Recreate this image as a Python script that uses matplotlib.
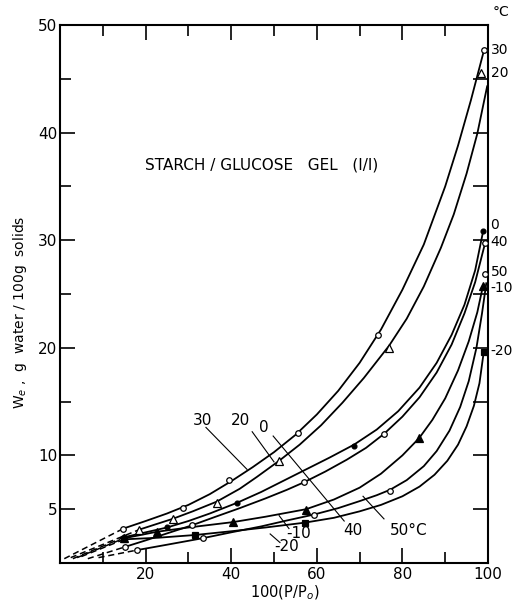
import matplotlib
matplotlib.use("Agg")
import matplotlib.pyplot as plt

# Sorption isotherms, starch/glucose gel (1/1).
temps = ["30", "20", "0", "40", "-10", "50", "-20"]

pts_x = {
    "30": [14.8, 28.7, 39.5, 55.6, 74.3, 99.1],
    "20": [18.5, 26.3, 36.6, 51.2, 76.9, 98.4],
    "0": [15.0, 25.0, 41.4, 68.7, 98.9],
    "40": [15.2, 30.8, 57.0, 75.7, 99.3],
    "-10": [15.0, 22.6, 40.4, 57.5, 83.9, 98.8],
    "50": [18.0, 33.3, 59.3, 77.1, 99.3],
    "-20": [15.0, 31.5, 57.2, 99.0],
}
pts_y = {
    "30": [3.2, 5.1, 7.7, 12.1, 21.2, 47.7],
    "20": [3.1, 4.1, 5.6, 9.5, 20.0, 45.5],
    "0": [2.4, 3.3, 5.6, 10.9, 30.9],
    "40": [1.5, 3.5, 7.5, 12.0, 29.7],
    "-10": [2.3, 2.9, 3.8, 4.9, 11.6, 25.7],
    "50": [1.2, 2.3, 4.5, 6.7, 26.9],
    "-20": [2.2, 2.6, 3.7, 19.6],
}

curve_x = {
    "30": [14.8, 20, 25, 30, 35, 40, 45, 50, 55, 60, 65, 70, 75, 80, 85, 90, 93, 96, 99.1],
    "20": [18.5, 22, 26.3, 31, 36.6, 42, 46, 51.2, 56, 61, 66, 71, 76.9, 81, 85, 89, 92,
           95, 97.5, 99.8],
    "0": [15, 20, 25, 30, 35, 41.4, 47, 53, 58, 63, 68.7, 74, 79, 84, 88, 91.5, 94.5, 97,
          98.9],
    "40": [15.2, 20, 25, 30.8, 36, 42, 48, 53, 57, 62, 67, 71.5, 75.7, 80, 84, 88, 91.5,
           94.5, 97, 99.3],
    "-10": [15, 22.6, 30, 40.4, 48, 57.5, 64, 70, 75, 80, 83.9, 87, 90, 93, 95.5, 97.5,
            98.8],
    "50": [18, 25, 33.3, 40, 47, 53, 59.3, 65, 70, 74, 77.1, 81, 85, 88, 91, 93.5, 95.5,
           97.3, 98.6, 99.6],
    "-20": [15, 23, 31.5, 40, 48, 57.2, 64, 70, 75, 80, 84, 87.5, 90.5, 93, 95, 96.7, 98,
            99],
}
curve_y = {
    "30": [3.2, 3.9, 4.6, 5.4, 6.4, 7.6, 8.9, 10.3, 11.9, 13.8, 16.0, 18.6, 21.7, 25.4,
           29.6, 35.0, 38.8, 43.0, 47.7],
    "20": [3.1, 3.55, 4.1, 4.8, 5.7, 6.9, 8.0, 9.5, 11.0, 12.8, 14.9, 17.2, 20.2, 22.7,
           25.7, 29.3, 32.4, 36.2, 39.9, 44.3],
    "0": [2.4, 2.85, 3.3, 3.9, 4.6, 5.6, 6.6, 7.8, 8.8, 9.8, 11.0, 12.4, 14.1, 16.3, 18.6,
          21.2, 24.0, 27.2, 30.9],
    "40": [1.5, 2.1, 2.75, 3.5, 4.25, 5.1, 6.0, 6.8, 7.5, 8.5, 9.6, 10.7, 12.0, 13.6, 15.4,
           17.7, 20.3, 23.2, 26.1, 29.7],
    "-10": [2.3, 2.9, 3.3, 3.8, 4.3, 5.0, 5.9, 7.0, 8.3, 10.0, 11.6, 13.3, 15.3, 17.9, 20.6,
            23.3, 25.7],
    "50": [1.2, 1.7, 2.3, 2.85, 3.4, 3.95, 4.5, 5.1, 5.75, 6.3, 6.8, 7.7, 9.0, 10.4, 12.3,
           14.5, 16.9, 20.0, 23.2, 26.0],
    "-20": [2.2, 2.35, 2.6, 2.95, 3.3, 3.75, 4.2, 4.8, 5.4, 6.2, 7.1, 8.2, 9.5, 11.0, 12.7,
            14.6, 16.7, 19.6],
}

# dashed extrapolation toward the origin (end points near zero)
dash_end_x = {"30": 1.0, "20": 2.5, "0": 3.0, "40": 6.5, "-10": 4.0, "50": 9.0, "-20": 5.0}
dash_end_y = {"30": 0.4, "20": 0.5, "0": 0.4, "40": 0.4, "-10": 0.5, "50": 0.5, "-20": 0.6}

markers = {"30": ("o", "white"), "20": ("^", "white"), "0": ("o", "black"),
           "40": ("o", "white"), "-10": ("^", "black"), "50": ("o", "white"),
           "-20": ("s", "black")}
msize = {"30": 4, "20": 5.5, "0": 3.5, "40": 4, "-10": 5.5, "50": 4, "-20": 4.5}

# labels at the right edge (text, y)
right_labels = [("30", 47.7), ("20", 45.5), ("0", 31.4), ("40", 29.8),
                ("50", 27.0), ("-10", 25.6), ("-20", 19.7)]

# in-plot labels with leader lines: text, text pos, leader start, leader end
inner_labels = [
    ("30", (33.2, 13.2), (34.1, 12.6), (43.7, 8.7)),
    ("20", (42.1, 13.2), (44.9, 12.2), (50.0, 9.4)),
    ("0", (47.7, 12.6), (49.8, 11.8), (66.4, 3.9)),
    ("40", (68.5, 3.0), None, None),
    ("50°C", (81.5, 3.0), (75.7, 4.1), (70.8, 6.2)),
    ("-10", (55.8, 2.7), (53.5, 3.2), (51.2, 4.4)),
    ("-20", (53.0, 1.5), (51.4, 1.9), (49.1, 2.7)),
]

plt.rcParams["font.family"] = "DejaVu Sans"
fig = plt.figure(figsize=(5.12, 6.05), dpi=100)
ax = fig.add_axes([60 / 512, 1 - 563 / 605, 428 / 512, 538 / 605])

for t in temps:
    ax.plot(curve_x[t], curve_y[t], color="black", lw=1.3, zorder=2)
    ax.plot([dash_end_x[t], curve_x[t][0]], [dash_end_y[t], curve_y[t][0]],
            color="black", lw=1.1, ls=(0, (4, 2.5)), zorder=2)
    m, fc = markers[t]
    ax.plot(pts_x[t], pts_y[t], ls="none", marker=m, ms=msize[t],
            mfc=fc, mec="black", mew=0.9, zorder=3)

for txt, (tx, ty), p0, p1 in inner_labels:
    ax.text(tx, ty, txt, fontsize=11, ha="center", va="center")
    if p0 is not None:
        ax.plot([p0[0], p1[0]], [p0[1], p1[1]], color="black", lw=0.8)

for txt, y in right_labels:
    ax.text(100.6, y, txt, fontsize=10, ha="left", va="center", clip_on=False)
ax.text(101.0, 51.2, "°C", fontsize=10, ha="left", va="center", clip_on=False)

ax.text(47.2, 37.0, "STARCH / GLUCOSE   GEL   (I/I)", fontsize=11,
        ha="center", va="center")

ax.set_xlim(0, 100)
ax.set_ylim(0, 50)
ax.set_xticks([20, 40, 60, 80, 100])
ax.set_xticklabels(["20", "40", "60", "80", "100"])
ax.set_xticks([10, 30, 50, 70, 90], minor=True)
ax.set_yticks([5, 10, 20, 30, 40, 50])
ax.set_yticks([15, 25, 35, 45], minor=True)
ax.tick_params(axis="both", which="major", direction="in", length=11, width=1.2,
               labelsize=11, top=True, right=False)
ax.tick_params(axis="both", which="minor", direction="in", length=8, width=1.2,
               top=True, right=False)
ax.tick_params(axis="y", pad=2)
ax.tick_params(axis="x", pad=3)
for s in ax.spines.values():
    s.set_linewidth(1.5)

# right side ticks every 5 units (inward, no labels)
ax_r = ax.twinx()
ax_r.set_ylim(0, 50)
ax_r.set_yticks([5, 10, 15, 20, 25, 30, 35, 40, 45])
ax_r.set_yticklabels([])
ax_r.tick_params(axis="y", direction="in", length=11, width=1.2)
for s in ax_r.spines.values():
    s.set_visible(False)

fig.text(20 / 512, 1 - 312 / 605, "W$_e$ ,  g  water / 100g  solids", rotation=90,
         fontsize=10, ha="center", va="center")
fig.text(285 / 512, 1 - 593 / 605, "100(P/P$_o$)", fontsize=10.5,
         ha="center", va="center")

fig.savefig("out.png", dpi=100)
